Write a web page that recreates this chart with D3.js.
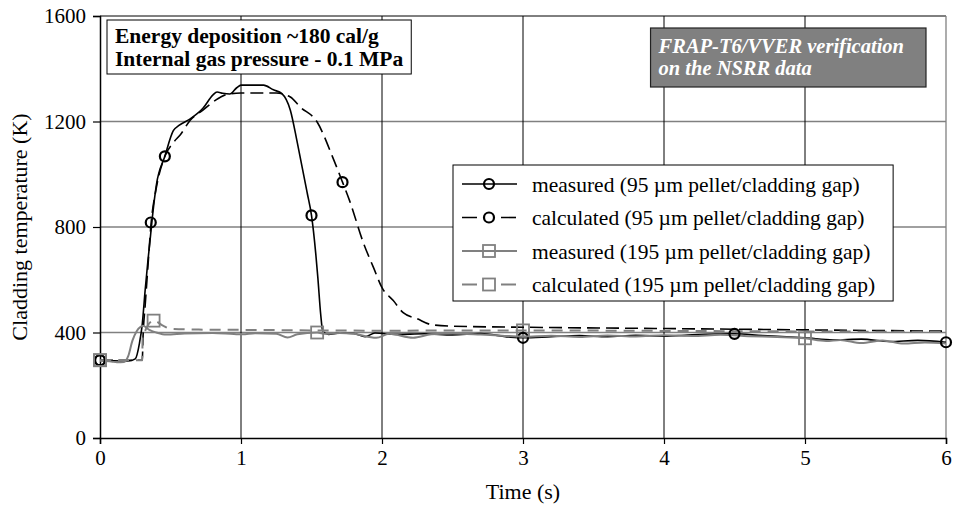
<!DOCTYPE html>
<html>
<head>
<meta charset="utf-8">
<script src="https://cdn.jsdelivr.net/npm/d3@7"></script>
<style>
  body { margin: 0; background: #fff; }
  text { font-family: "Liberation Serif", "Times New Roman", serif; fill: #000; }
</style>
</head>
<body>
<svg id="chart" width="953" height="507"></svg>
<script>
// Axis ticks
const xTicks = [0, 1, 2, 3, 4, 5, 6];
const yTicks = [0, 400, 800, 1200, 1600];
const yGrid = [400, 800, 1200];
const xGrid = [1, 2, 3, 4, 5];

// Cladding temperature histories [time s, temperature K]
const measured95 = [
  [0,295],[0.1,293],[0.2,292],[0.25,300],[0.28,360],[0.30,433],[0.32,559],[0.34,673],[0.355,749],
  [0.37,830],[0.40,960],[0.46,1068],[0.52,1165],[0.56,1185],[0.64,1210],[0.73,1250],[0.8,1300],
  [0.83,1312],[0.87,1307],[0.92,1304],[0.97,1328],[1.0,1338],[1.16,1338],[1.23,1320],[1.29,1306],
  [1.35,1243],[1.40,1118],[1.47,928],[1.50,844],[1.53,700],[1.545,608],[1.565,470],[1.58,405],
  [1.62,393],[1.7,398],[1.8,396],[1.88,384],[1.95,398],[2.1,393],[2.3,395],[2.5,391],[2.7,396],
  [2.9,383],[3.0,380],[3.2,384],[3.4,388],[3.6,384],[3.8,389],[4.0,386],[4.2,391],[4.5,395],
  [4.7,388],[4.9,383],[5.0,380],[5.2,372],[5.4,375],[5.6,366],[5.8,370],[6.0,363]
];
const calculated95 = [
  [0,295],[0.3,295],[0.305,380],[0.32,500],[0.34,650],[0.36,800],[0.40,950],[0.46,1068],
  [0.52,1120],[0.57,1150],[0.64,1205],[0.73,1243],[0.82,1281],[0.92,1305],[1.0,1308],[1.25,1308],
  [1.35,1293],[1.42,1255],[1.54,1198],[1.65,1065],[1.72,970],[1.77,900],[1.87,737],[1.94,646],
  [2.0,570],[2.08,521],[2.15,475],[2.25,452],[2.35,430],[2.5,424],[3,420],[4,415],[5,410],[6,405]
];
const measured195 = [
  [0,293],[0.08,290],[0.12,287],[0.17,288],[0.2,310],[0.23,369],[0.26,405],[0.29,422],[0.305,426],
  [0.35,410],[0.4,400],[0.47,392],[0.6,396],[0.8,398],[0.95,394],[1.01,393],[1.1,397],[1.25,395],
  [1.33,381],[1.4,393],[1.54,400],[1.6,395],[1.7,398],[1.8,395],[1.96,380],[2.05,395],[2.22,380],
  [2.35,393],[2.5,396],[2.7,392],[2.85,388],[3.0,384],[3.2,388],[3.4,383],[3.6,389],[3.8,385],
  [4.0,390],[4.2,387],[4.4,391],[4.6,386],[4.8,383],[5.0,378],[5.15,368],[5.25,372],[5.4,360],
  [5.55,370],[5.7,358],[5.85,362],[6.0,358]
];
const calculated195 = [
  [0,295],[0.3,295],[0.302,380],[0.38,445],[0.45,425],[0.5,414],[0.7,411],[1.0,410],[1.5,408],
  [2,407],[3,408],[4,406],[5,404],[6,402]
];

// Marker positions along each history
const measured95Marks = [[0,295],[1.5,844],[3.0,380],[4.5,395],[6.0,363]];
const calculated95Marks = [[0,295],[0.36,817],[0.46,1068],[1.72,970]];
const measured195Marks = [[0,295],[1.54,400],[5.0,378]];
const calculated195Marks = [[0,295],[0.38,445],[3.0,408]];

const legendLabels = [
  "measured (95 \u00b5m pellet/cladding gap)",
  "calculated (95 \u00b5m pellet/cladding gap)",
  "measured (195 \u00b5m pellet/cladding gap)",
  "calculated (195 \u00b5m pellet/cladding gap)"
];
const noteLines = ["Energy deposition ~180 cal/g", "Internal gas pressure - 0.1 MPa"];
const titleLines = ["FRAP-T6/VVER verification", "on the NSRR data"];

const svg = d3.select("#chart");
const x = d3.scaleLinear().domain([0, 6]).range([100, 946]);
const y = d3.scaleLinear().domain([0, 1600]).range([438, 16]);

const GRAY = "#808080";

// gridlines
svg.append("g").selectAll("line").data(yGrid).join("line")
  .attr("x1", x(0)).attr("x2", x(6)).attr("y1", d => y(d)).attr("y2", d => y(d))
  .attr("stroke", GRAY).attr("stroke-width", 1.3);
svg.append("g").selectAll("line").data(xGrid).join("line")
  .attr("x1", d => x(d)).attr("x2", d => x(d)).attr("y1", y(0)).attr("y2", y(1600))
  .attr("stroke", "#000").attr("stroke-width", 1);
// frame top/right
svg.append("line").attr("x1", x(0)).attr("x2", x(6)).attr("y1", y(1600)).attr("y2", y(1600))
  .attr("stroke", "#000").attr("stroke-width", 1);
svg.append("line").attr("x1", x(6)).attr("x2", x(6)).attr("y1", y(0)).attr("y2", y(1600))
  .attr("stroke", GRAY).attr("stroke-width", 1.3);

// axes
const xAxis = svg.append("g").attr("transform", `translate(0,${y(0)})`)
  .call(d3.axisBottom(x).tickValues(xTicks).tickSize(6).tickPadding(6).tickFormat(d3.format("d")));
const yAxis = svg.append("g").attr("transform", `translate(${x(0)},0)`)
  .call(d3.axisLeft(y).tickValues(yTicks).tickSize(7).tickPadding(7).tickFormat(d3.format("d")));
[xAxis, yAxis].forEach(a => {
  a.select(".domain").attr("stroke", "#000").attr("stroke-width", 1.5);
  a.selectAll(".tick line").attr("stroke", "#000").attr("stroke-width", 1.2);
  a.selectAll(".tick text").attr("font-family", "Liberation Serif, serif").attr("font-size", 21).attr("fill", "#000");
});

// axis titles
svg.append("text").attr("x", x(3)).attr("y", 499).attr("text-anchor", "middle")
  .attr("font-size", 22).text("Time (s)");
svg.append("text").attr("transform", `translate(27,${y(800)}) rotate(-90)`)
  .attr("text-anchor", "middle").attr("font-size", 22).text("Cladding temperature (K)");

// series
const line = d3.line().x(d => x(d[0])).y(d => y(d[1])).curve(d3.curveMonotoneX);
const series = [
  { data: calculated95, marks: calculated95Marks, color: "#000", width: 1.6, dash: "13,6", mark: "circle" },
  { data: measured95, marks: measured95Marks, color: "#000", width: 1.6, dash: null, mark: "circle" },
  { data: measured195, marks: measured195Marks, color: GRAY, width: 2, dash: null, mark: "square" },
  { data: calculated195, marks: calculated195Marks, color: GRAY, width: 2, dash: "11,7", mark: "square" }
];

function drawMarker(g, type, cx, cy, color) {
  if (type === "circle") {
    g.append("circle").attr("cx", cx).attr("cy", cy).attr("r", 5)
      .attr("fill", "none").attr("stroke", color).attr("stroke-width", 2.2);
  } else {
    g.append("rect").attr("x", cx - 6).attr("y", cy - 6).attr("width", 12).attr("height", 12)
      .attr("fill", "none").attr("stroke", color).attr("stroke-width", 1.8);
  }
}

const plot = svg.append("g");
series.forEach(s => {
  plot.append("path").datum(s.data).attr("d", line)
    .attr("fill", "none").attr("stroke", s.color).attr("stroke-width", s.width)
    .attr("stroke-dasharray", s.dash);
});
series.forEach(s => {
  s.marks.forEach(m => drawMarker(plot, s.mark, x(m[0]), y(m[1]), s.color));
});

// note box (upper left)
const note = svg.append("g");
const noteRect = note.append("rect").attr("fill", "#fff").attr("stroke", "#000").attr("stroke-width", 1);
note.selectAll("text").data(noteLines).join("text")
  .attr("x", 115).attr("y", (d, i) => 43 + i * 23)
  .attr("font-size", 21.5).attr("font-weight", "bold").text(d => d);
{
  const w = d3.max(note.selectAll("text").nodes(), n => n.getComputedTextLength());
  noteRect.attr("x", 107).attr("y", 20).attr("width", 115 + w + 8 - 107).attr("height", 54);
}

// title box (upper right)
const tbox = svg.append("g");
const tRect = tbox.append("rect").attr("fill", GRAY).attr("stroke", "#222").attr("stroke-width", 1.2);
const tText = tbox.selectAll("text").data(titleLines).join("text")
  .attr("y", (d, i) => 53 + i * 22)
  .attr("font-size", 20.5).attr("font-weight", "bold").attr("font-style", "italic")
  .style("fill", "#fff").text(d => d);
{
  const w = d3.max(tText.nodes(), n => n.getComputedTextLength());
  const textRight = 904;
  const left = textRight - w - 8;
  tText.attr("x", left + 8);
  tRect.attr("x", left).attr("y", 28).attr("width", 926 - left).attr("height", 59);
}

// legend
const legend = svg.append("g");
const legRect = legend.append("rect").attr("fill", "#fff").attr("stroke", "#000").attr("stroke-width", 1);
const rowY = i => 184 + i * 33.5;
const legendOrder = [series[1], series[0], series[2], series[3]];
legendOrder.forEach((s, i) => {
  const yy = rowY(i);
  legend.append("line").attr("x1", 462).attr("x2", 517).attr("y1", yy).attr("y2", yy)
    .attr("stroke", s.color).attr("stroke-width", s.width)
    .attr("stroke-dasharray", s.dash ? "15,24" : null);
  drawMarker(legend, s.mark, 489, yy, s.color);
  legend.append("text").attr("x", 532).attr("y", yy).attr("dy", "0.35em")
    .attr("font-size", 21.5).text(legendLabels[i]);
});
{
  const w = d3.max(legend.selectAll("text").nodes(), n => n.getComputedTextLength());
  legRect.attr("x", 453).attr("y", 165).attr("width", 532 + w + 18 - 453).attr("height", 136);
}
</script>
</body>
</html>
